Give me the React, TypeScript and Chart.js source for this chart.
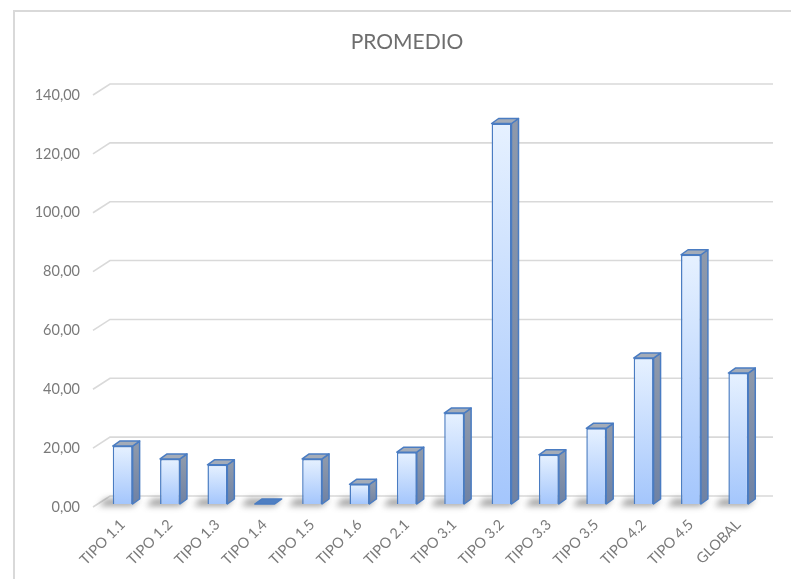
import { useEffect, useRef } from "react";
import { Chart, registerables } from "chart.js";

Chart.register(...registerables);

const chartTitle = "PROMEDIO";
const categories = [
  "TIPO 1.1", "TIPO 1.2", "TIPO 1.3", "TIPO 1.4", "TIPO 1.5", "TIPO 1.6", "TIPO 2.1",
  "TIPO 3.1", "TIPO 3.2", "TIPO 3.3", "TIPO 3.5", "TIPO 4.2", "TIPO 4.5", "GLOBAL",
];
const promedio = [19.7, 15.3, 13.3, 0, 15.3, 6.7, 17.6, 30.9, 129.3, 16.7, 25.7, 49.6, 84.7, 44.5];
const yMin = 0;
const yMax = 140;
const yStep = 20;

const FONT = 'Lato, "Open Sans", sans-serif';
const DX = 7;
const DY = 5;

const framePlugin = {
  id: "frame",
  beforeDraw(chart: any) {
    const { ctx, width, height } = chart;
    ctx.save();
    ctx.fillStyle = "#ffffff";
    ctx.fillRect(0, 0, width, height);
    ctx.strokeStyle = "#d9d9d9";
    ctx.lineWidth = 2;
    ctx.beginPath();
    ctx.moveTo(14, height);
    ctx.lineTo(14, 11);
    ctx.lineTo(width, 11);
    ctx.stroke();
    ctx.fillStyle = "#6e6e6e";
    ctx.font = `21px ${FONT}`;
    ctx.textAlign = "center";
    ctx.textBaseline = "middle";
    ctx.fillText(chartTitle, 407, 42);
    ctx.restore();
  },
};

const gridPlugin = {
  id: "grid3d",
  beforeDatasetsDraw(chart: any) {
    const { ctx, chartArea } = chart;
    const ys = chart.scales.y;
    ctx.save();
    ctx.strokeStyle = "#d9d9d9";
    ctx.lineWidth = 1.6;
    ys.ticks.forEach((t: any) => {
      const y = ys.getPixelForValue(t.value);
      ctx.beginPath();
      ctx.moveTo(chartArea.left - 6, y + 3);
      ctx.lineTo(chartArea.left + 11, y - 8);
      ctx.lineTo(chartArea.right + 11, y - 8);
      ctx.stroke();
    });
    const meta = chart.getDatasetMeta(0);
    meta.data.forEach((el: any) => {
      const { x, base, width } = el.getProps(["x", "base", "width"], true);
      const l = x - width / 2;
      const r = x + width / 2;
      ctx.save();
      ctx.filter = "blur(3px)";
      ctx.fillStyle = "rgba(60,60,60,0.5)";
      ctx.beginPath();
      ctx.moveTo(l - 14, base + 2);
      ctx.lineTo(r, base + 2);
      ctx.lineTo(r + DX, base - DY);
      ctx.lineTo(l - 14 + DX, base - DY);
      ctx.closePath();
      ctx.fill();
      ctx.restore();
    });
    ctx.restore();
  },
};

const bar3dPlugin = {
  id: "bar3d",
  afterDatasetsDraw(chart: any) {
    const { ctx } = chart;
    const meta = chart.getDatasetMeta(0);
    ctx.save();
    meta.data.forEach((el: any) => {
      const { x, y, base, width } = el.getProps(["x", "y", "base", "width"], true);
      const l = x - width / 2;
      const r = x + width / 2;
      const flat = base - y < 1.5;
      ctx.lineWidth = 1.5;
      ctx.strokeStyle = "#4a7cc2";
      ctx.lineJoin = "round";
      if (!flat) {
        const g = ctx.createLinearGradient(0, y, 0, base);
        g.addColorStop(0, "#8e99ab");
        g.addColorStop(1, "#6f82a4");
        ctx.fillStyle = g;
        ctx.beginPath();
        ctx.moveTo(r, y);
        ctx.lineTo(r + DX, y - DY);
        ctx.lineTo(r + DX, base - DY);
        ctx.lineTo(r, base);
        ctx.closePath();
        ctx.fill();
        ctx.stroke();
      }
      ctx.fillStyle = flat ? "#4f7fc2" : "#a4acb8";
      ctx.beginPath();
      ctx.moveTo(l, y);
      ctx.lineTo(l + DX, y - DY);
      ctx.lineTo(r + DX, y - DY);
      ctx.lineTo(r, y);
      ctx.closePath();
      ctx.fill();
      ctx.stroke();
    });
    ctx.restore();
  },
};

export default function App() {
  const ref = useRef<HTMLCanvasElement | null>(null);

  useEffect(() => {
    document.body.style.margin = "0";
    const canvas = ref.current;
    if (!canvas) return;
    const chart = new Chart(canvas, {
      type: "bar",
      data: {
        labels: categories,
        datasets: [
          {
            label: chartTitle,
            data: promedio,
            backgroundColor: (c: any) => {
              const ch = c.chart;
              const ys = ch.scales && ch.scales.y;
              const v = c.raw;
              if (!ys || typeof v !== "number") return "#c4dbff";
              const top = ys.getPixelForValue(v);
              const bot = ys.getPixelForValue(0);
              if (!isFinite(top) || !isFinite(bot) || bot - top < 1) return "#a6c8ff";
              const g = ch.ctx.createLinearGradient(0, top, 0, bot);
              g.addColorStop(0, "#e6f1ff");
              g.addColorStop(1, "#a4c6fc");
              return g;
            },
            borderColor: "#4a7cc2",
            borderWidth: 1.5,
            barPercentage: 0.42,
            categoryPercentage: 1,
          },
        ],
      },
      options: {
        responsive: false,
        animation: false,
        layout: { padding: { left: 0, right: 29, top: 92, bottom: 0 } },
        plugins: {
          legend: { display: false },
          title: { display: false },
          tooltip: { enabled: false },
        },
        scales: {
          x: {
            grid: { display: false, drawTicks: false },
            border: { display: false },
            ticks: {
              color: "#7a7a7a",
              font: { family: FONT, size: 14.5 },
              minRotation: 45,
              maxRotation: 45,
              padding: 12,
              autoSkip: false,
            },
            afterFit: (s: any) => {
              s.height = 75;
            },
          },
          y: {
            min: yMin,
            max: yMax,
            grid: { display: false, drawTicks: false },
            border: { display: false },
            ticks: {
              stepSize: yStep,
              color: "#7a7a7a",
              font: { family: FONT, size: 14.5 },
              padding: 19,
              labelOffset: 3,
              callback: (v: any) => Number(v).toFixed(2).replace(".", ","),
            },
            afterFit: (s: any) => {
              s.width = 99;
            },
          },
        },
      },
      plugins: [framePlugin, gridPlugin, bar3dPlugin],
    });
    return () => chart.destroy();
  }, []);

  return (
    <div style={{ position: "fixed", left: 0, top: 0, width: 791, height: 579 }}>
      <canvas ref={ref} width={791} height={579} style={{ display: "block", width: 791, height: 579 }} />
    </div>
  );
}
